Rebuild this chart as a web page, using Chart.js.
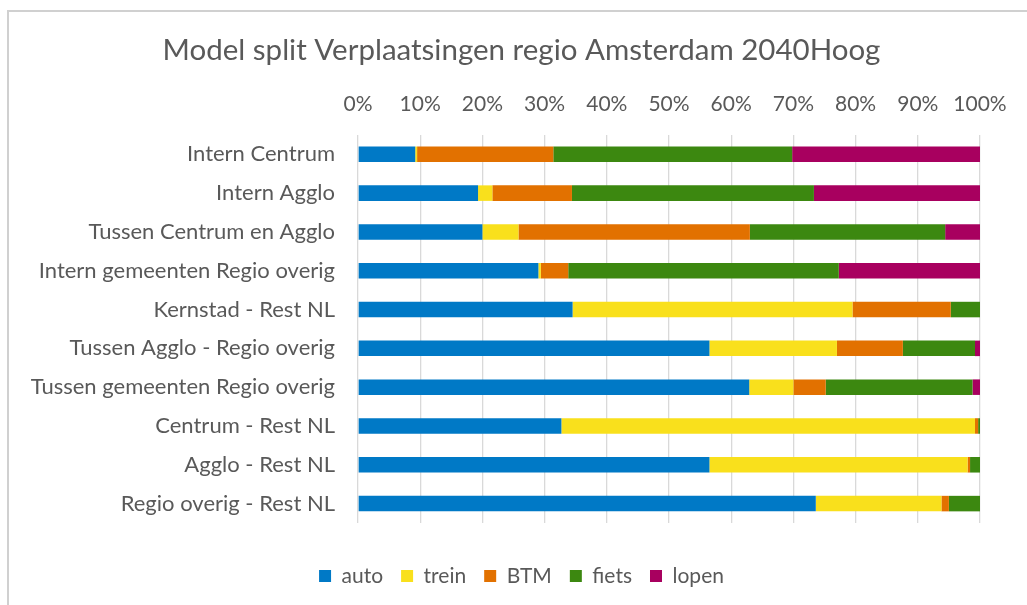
<!DOCTYPE html>
<html>
<head>
<meta charset="utf-8">
<script src="https://cdn.jsdelivr.net/npm/chart.js@4/dist/chart.umd.min.js"></script>
<style>
  html, body { margin: 0; padding: 0; background: #ffffff; overflow: hidden; }
  #wrap { position: relative; width: 1027px; height: 605px; }
  #frame { position: absolute; left: 7px; top: 10px; width: 1100px; height: 700px;
           border: 2px solid #d0d0d0; box-sizing: border-box; pointer-events: none; }
  canvas { position: absolute; left: 0; top: 0; }
</style>
</head>
<body>
<div id="wrap">
  <canvas id="chart" width="1027" height="605"></canvas>
  <div id="frame"></div>
</div>
<script>
// Trip categories (top to bottom)
const categories = [
  'Intern Centrum',
  'Intern Agglo',
  'Tussen Centrum en Agglo',
  'Intern gemeenten Regio overig',
  'Kernstad - Rest NL',
  'Tussen Agglo - Regio overig',
  'Tussen gemeenten Regio overig',
  'Centrum - Rest NL',
  'Agglo - Rest NL',
  'Regio overig - Rest NL'
];

// Share per mode, in percent of trips
const auto  = [9.2, 19.3, 20.0, 29.0, 34.5, 56.5, 62.9, 32.7, 56.5, 73.6];
const trein = [0.3,  2.3,  5.8,  0.4, 45.0, 20.5,  7.1, 66.5, 41.5, 20.2];
const btm   = [21.9, 12.8, 37.2, 4.4, 15.8, 10.6,  5.2,  0.5,  0.4,  1.2];
const fiets = [38.4, 38.9, 31.4, 43.5, 4.7, 11.6, 23.6,  0.3,  1.6,  5.0];
const lopen = [30.2, 26.7, 5.6, 22.7,  0.0,  0.8,  1.2,  0.0,  0.0,  0.0];

const modeNames = ['auto', 'trein', 'BTM', 'fiets', 'lopen'];
const modeColors = ['#0079C6', '#F9E01C', '#E27100', '#3C8810', '#A8005F'];
const seriesValues = [auto, trein, btm, fiets, lopen];

const titleText = 'Model split Verplaatsingen regio Amsterdam 2040Hoog';
const tickValues = [0, 10, 20, 30, 40, 50, 60, 70, 80, 90, 100];

const textColor = '#595959';
const fontFamily = 'Lato, "Open Sans", sans-serif';

const datasets = seriesValues.map((vals, i) => ({
  label: modeNames[i],
  data: vals,
  backgroundColor: modeColors[i],
  borderWidth: 0,
  categoryPercentage: 1.0,
  barPercentage: 0.4
}));

// Title and legend are centred over a slightly narrower band than the
// category-axis column, so shift their left edge inward after layout.
const centreInset = {
  id: 'centreInset',
  afterLayout(chart, args, opts) {
    [chart.titleBlock, chart.legend].forEach(box => {
      if (box) { box.left += opts.inset; box.width -= opts.inset; }
    });
  }
};

new Chart(document.getElementById('chart'), {
  type: 'bar',
  data: { labels: categories, datasets: datasets },
  plugins: [centreInset],
  options: {
    indexAxis: 'y',
    responsive: false,
    animation: false,
    maintainAspectRatio: false,
    layout: { padding: { top: 33, bottom: 8.5, left: 10, right: 47 } },
    plugins: {
      centreInset: { inset: 53 },
      title: {
        display: true,
        text: titleText,
        color: textColor,
        font: { family: fontFamily, size: 29.5, weight: 'normal' },
        padding: { top: 0, bottom: 0 }
      },
      legend: {
        position: 'bottom',
        title: {
          display: true,
          text: '',
          font: { size: 10 },
          padding: { top: 12.5, bottom: 0 }
        },
        labels: {
          color: textColor,
          font: { family: fontFamily, size: 21 },
          boxWidth: 12,
          boxHeight: 12,
          padding: 18
        }
      },
      tooltip: { enabled: false }
    },
    scales: {
      x: {
        position: 'top',
        stacked: true,
        min: 0,
        max: 100,
        afterBuildTicks: (axis) => { axis.ticks = tickValues.map(v => ({ value: v })); },
        afterFit: (axis) => { axis.height = 66.5; },
        ticks: {
          color: textColor,
          font: { family: fontFamily, size: 21 },
          padding: 18,
          maxRotation: 0,
          callback: (v) => v + '%'
        },
        grid: { color: '#d9d9d9', lineWidth: 1.3, drawTicks: false },
        border: { display: false }
      },
      y: {
        stacked: true,
        afterFit: (axis) => { axis.width = 348; },
        ticks: {
          color: textColor,
          font: { family: fontFamily, size: 22 },
          padding: 23,
          autoSkip: false
        },
        grid: { display: false, drawTicks: false },
        border: { display: false }
      }
    }
  }
});
</script>
</body>
</html>
